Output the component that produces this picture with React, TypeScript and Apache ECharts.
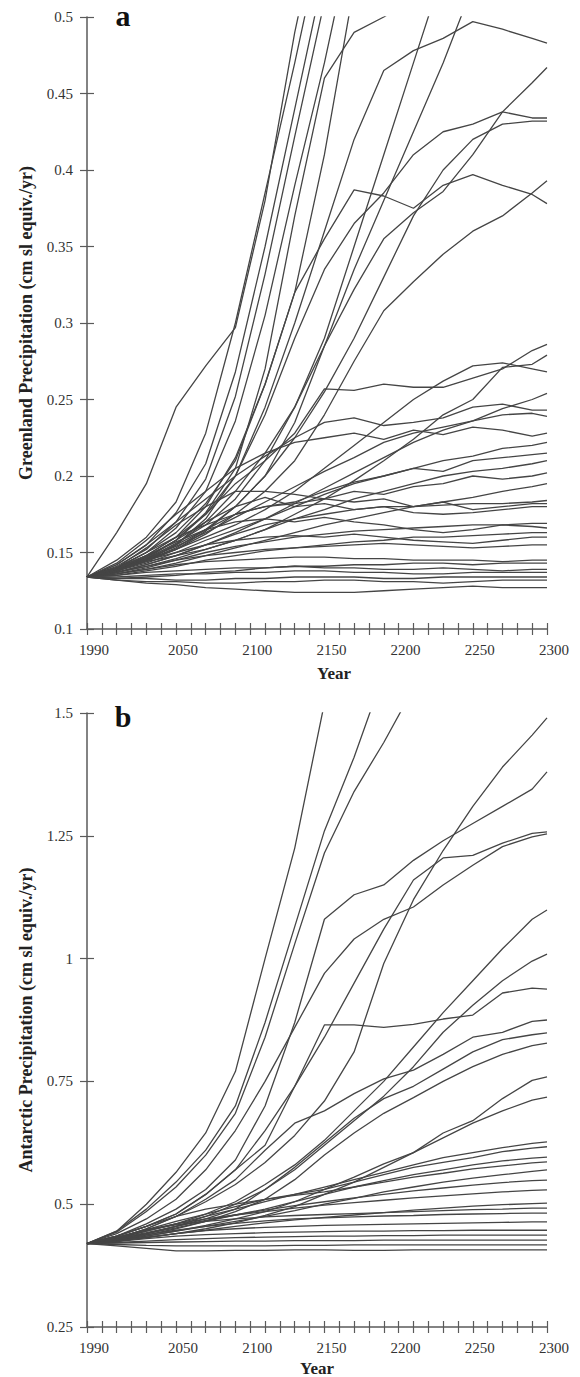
import React, { useEffect, useRef } from 'react';
import * as echarts from 'echarts';

const YEARS = [1990, 2010, 2030, 2050, 2070, 2090, 2110, 2130, 2150, 2170, 2190, 2210, 2230, 2250, 2270, 2290, 2300];
const X_LABEL_YEARS = [1990, 2050, 2100, 2150, 2200, 2250, 2300];

// Greenland precipitation runs (cm sl equiv./yr), sampled at YEARS
const GREENLAND_RUNS: number[][] = [
  [.134, .163, .195, .245, .272, .297, .38, .49, .58],
  [.134, .145, .160, .183, .228, .300, .385, .470, .56],
  [.134, .142, .155, .176, .208, .268, .35, .44, .53],
  [.134, .141, .152, .170, .198, .252, .332, .422, .51],
  [.134, .140, .150, .166, .190, .236, .305, .39, .47, .56],
  [.134, .140, .148, .160, .180, .212, .26, .32, .41, .52],
  [.134, .139, .147, .158, .176, .205, .27, .37, .46, .49, .5, .512],
  [.134, .139, .146, .156, .168, .185, .21, .245, .29, .35, .41, .47, .53],
  [.134, .138, .145, .153, .165, .18, .20, .235, .285, .335, .38, .425, .47, .52],
  [.134, .139, .145, .155, .172, .20, .245, .30, .36, .42, .465, .478, .486, .497, .492, .486, .483],
  [.134, .138, .145, .155, .17, .19, .215, .245, .285, .322, .355, .372, .386, .41, .438, .457, .467],
  [.134, .139, .147, .158, .175, .20, .24, .29, .335, .365, .385, .41, .425, .43, .438, .434, .434],
  [.134, .138, .144, .152, .164, .18, .20, .225, .255, .29, .33, .37, .40, .42, .43, .432, .432],
  [.134, .139, .145, .152, .162, .175, .19, .21, .24, .275, .308, .327, .345, .36, .37, .385, .393],
  [.134, .14, .15, .163, .182, .21, .26, .32, .355, .387, .383, .375, .39, .397, .39, .384, .378],
  [.134, .14, .148, .16, .175, .195, .21, .228, .257, .256, .26, .258, .258, .264, .27, .282, .286],
  [.134, .139, .144, .148, .152, .158, .165, .175, .185, .197, .21, .224, .24, .25, .271, .273, .279],
  [.134, .139, .145, .152, .16, .168, .178, .19, .205, .22, .235, .25, .262, .272, .274, .27, .268],
  [.134, .137, .142, .148, .155, .163, .172, .182, .192, .202, .212, .222, .23, .236, .244, .25, .254],
  [.134, .142, .155, .17, .185, .20, .213, .225, .235, .238, .233, .235, .238, .245, .247, .243, .243],
  [.134, .139, .146, .154, .163, .173, .183, .193, .203, .212, .222, .228, .232, .236, .24, .241, .239],
  [.134, .143, .158, .175, .19, .205, .215, .222, .225, .228, .224, .23, .227, .232, .23, .226, .228],
  [.134, .138, .143, .15, .158, .165, .172, .18, .188, .195, .2, .205, .21, .213, .218, .22, .222],
  [.134, .14, .15, .16, .168, .175, .18, .183, .19, .196, .2, .205, .203, .21, .212, .214, .215],
  [.134, .137, .141, .146, .152, .158, .165, .172, .178, .185, .19, .195, .2, .203, .205, .208, .21],
  [.134, .138, .145, .155, .165, .175, .18, .182, .185, .19, .188, .193, .195, .2, .198, .2, .202],
  [.134, .136, .139, .143, .148, .153, .158, .163, .168, .172, .176, .18, .183, .186, .19, .193, .195],
  [.134, .137, .142, .148, .155, .162, .168, .172, .175, .178, .18, .18, .181, .182, .182, .183, .184],
  [.134, .14, .153, .168, .18, .19, .19, .188, .185, .183, .185, .18, .183, .178, .18, .182, .182],
  [.134, .138, .146, .158, .17, .18, .186, .18, .182, .178, .18, .176, .175, .176, .178, .18, .18],
  [.134, .136, .14, .145, .15, .154, .157, .16, .162, .164, .165, .166, .167, .168, .168, .169, .169],
  [.134, .139, .148, .157, .165, .17, .172, .17, .173, .17, .168, .165, .163, .165, .168, .167, .166],
  [.134, .135, .138, .141, .145, .148, .151, .153, .155, .157, .158, .16, .16, .161, .162, .163, .163],
  [.134, .138, .145, .15, .155, .158, .16, .161, .16, .162, .16, .158, .157, .156, .158, .16, .16],
  [.134, .137, .141, .145, .148, .15, .152, .153, .154, .155, .156, .155, .154, .153, .154, .155, .155],
  [.134, .136, .139, .142, .144, .145, .146, .147, .147, .146, .146, .145, .145, .145, .144, .145, .145],
  [.134, .133, .134, .135, .137, .138, .14, .141, .141, .142, .142, .143, .143, .142, .143, .143, .143],
  [.134, .135, .137, .138, .139, .14, .14, .141, .14, .14, .139, .139, .14, .139, .138, .139, .139],
  [.134, .134, .135, .136, .136, .137, .137, .138, .138, .137, .137, .136, .136, .137, .137, .137, .137],
  [.134, .133, .133, .132, .132, .133, .133, .134, .134, .134, .133, .133, .134, .134, .134, .134, .134],
  [.134, .132, .131, .131, .13, .13, .131, .131, .132, .132, .131, .131, .13, .131, .132, .132, .132],
  [.134, .132, .13, .129, .127, .126, .125, .124, .124, .124, .125, .126, .127, .128, .127, .127, .127],
];

// Antarctic precipitation runs (cm sl equiv./yr), sampled at YEARS
const ANTARCTIC_RUNS: number[][] = [
  [.42, .445, .50, .565, .645, .77, 1.0, 1.225, 1.52],
  [.42, .445, .49, .545, .61, .70, .87, 1.065, 1.26, 1.41, 1.58],
  [.42, .443, .485, .535, .60, .685, .84, 1.03, 1.215, 1.34, 1.44, 1.55],
  [.42, .43, .45, .475, .505, .54, .585, .64, .71, .81, .99, 1.12, 1.22, 1.31, 1.39, 1.455, 1.49],
  [.42, .435, .46, .49, .53, .59, .70, .87, 1.08, 1.13, 1.15, 1.2, 1.24, 1.275, 1.31, 1.345, 1.38],
  [.42, .435, .455, .48, .52, .57, .65, .74, .84, .95, 1.06, 1.16, 1.205, 1.21, 1.235, 1.255, 1.258],
  [.42, .44, .47, .51, .57, .65, .75, .86, .97, 1.04, 1.08, 1.105, 1.15, 1.19, 1.228, 1.248, 1.254],
  [.42, .43, .445, .46, .48, .505, .54, .58, .63, .69, .75, .82, .89, .955, 1.02, 1.08, 1.099],
  [.42, .43, .44, .455, .475, .50, .53, .57, .62, .67, .72, .78, .85, .905, .955, .995, 1.009],
  [.42, .435, .455, .48, .52, .57, .62, .74, .865, .865, .86, .866, .877, .885, .93, .94, .938],
  [.42, .43, .45, .475, .51, .55, .61, .665, .69, .725, .755, .773, .805, .84, .85, .872, .875],
  [.42, .428, .44, .455, .47, .49, .53, .575, .625, .675, .715, .74, .775, .81, .835, .845, .849],
  [.42, .427, .437, .45, .465, .485, .51, .55, .6, .645, .685, .717, .75, .78, .805, .823, .828],
  [.42, .427, .435, .445, .457, .47, .485, .505, .53, .555, .582, .605, .645, .67, .715, .752, .759],
  [.42, .425, .432, .44, .45, .462, .477, .495, .52, .545, .575, .605, .635, .665, .69, .712, .718],
  [.42, .43, .445, .46, .475, .49, .505, .52, .535, .55, .565, .58, .595, .605, .615, .624, .627],
  [.42, .432, .448, .465, .48, .495, .51, .52, .53, .545, .56, .575, .585, .595, .607, .614, .617],
  [.42, .428, .44, .452, .465, .478, .49, .505, .52, .535, .548, .56, .57, .58, .588, .594, .596],
  [.42, .435, .455, .475, .49, .5, .51, .518, .525, .535, .545, .555, .563, .572, .578, .584, .586],
  [.42, .426, .435, .445, .455, .465, .475, .487, .5, .512, .525, .535, .545, .553, .56, .567, .57],
  [.42, .43, .442, .455, .467, .478, .488, .497, .505, .513, .52, .527, .533, .539, .544, .548, .549],
  [.42, .433, .448, .46, .47, .478, .485, .492, .498, .503, .508, .513, .517, .521, .525, .528, .529],
  [.42, .425, .432, .44, .447, .455, .462, .468, .473, .478, .483, .488, .492, .496, .499, .501, .502],
  [.42, .432, .447, .458, .465, .47, .474, .477, .479, .481, .483, .485, .487, .489, .49, .492, .492],
  [.42, .428, .438, .447, .455, .461, .466, .47, .472, .474, .476, .477, .479, .48, .481, .482, .482],
  [.42, .425, .433, .44, .446, .45, .453, .455, .457, .458, .459, .46, .461, .462, .463, .464, .464],
  [.42, .424, .43, .435, .438, .44, .442, .443, .444, .445, .445, .446, .446, .447, .447, .447, .447],
  [.42, .422, .425, .428, .43, .432, .433, .434, .435, .435, .436, .436, .437, .437, .437, .437, .437],
  [.42, .421, .422, .423, .424, .425, .425, .426, .426, .426, .427, .427, .427, .427, .427, .427, .427],
  [.42, .418, .416, .415, .415, .415, .415, .416, .416, .417, .417, .417, .417, .417, .417, .417, .417],
  [.42, .415, .41, .405, .405, .406, .406, .407, .407, .406, .406, .407, .407, .407, .407, .407, .407],
];

const FONT = "'Liberation Serif', 'Times New Roman', serif";
const AXIS_COLOR = '#5a5a5a';
const LINE_COLOR = '#454545';

function makeXAxes(gridIndex: number) {
  const base = {
    gridIndex, type: 'value', min: 1990, max: 2300, interval: 10, position: 'bottom',
    splitLine: { show: false },
  };
  return [
    {
      ...base,
      axisLine: { show: true, onZero: false, lineStyle: { color: AXIS_COLOR, width: 1.5 } },
      axisTick: { show: true, inside: false, length: 6, lineStyle: { color: AXIS_COLOR, width: 1.2 } },
      axisLabel: {
        show: true, margin: 13, fontFamily: FONT, fontSize: 15, color: '#333',
        padding: [0, 0, 0, 14], showMinLabel: true, showMaxLabel: true,
        formatter: (v: number) => (X_LABEL_YEARS.includes(v) ? String(v) : ''),
      },
    },
    {
      ...base,
      axisLine: { show: false, onZero: false },
      axisTick: { show: true, inside: true, length: 6, lineStyle: { color: AXIS_COLOR, width: 1.2 } },
      axisLabel: { show: false },
    },
  ];
}

function makeYAxes(gridIndex: number, min: number, max: number, interval: number, name: string) {
  const base = { gridIndex, type: 'value', min, max, interval, position: 'left', splitLine: { show: false } };
  return [
    {
      ...base,
      name, nameLocation: 'middle', nameGap: 52,
      nameTextStyle: { fontFamily: FONT, fontWeight: 'bold', fontSize: 18, color: '#222' },
      axisLine: { show: true, onZero: false, lineStyle: { color: AXIS_COLOR, width: 1.5 } },
      axisTick: { show: true, inside: false, length: 7, lineStyle: { color: AXIS_COLOR, width: 1.2 } },
      axisLabel: { show: true, margin: 14, fontFamily: FONT, fontSize: 15, color: '#333' },
    },
    {
      ...base,
      axisLine: { show: false, onZero: false },
      axisTick: { show: true, inside: true, length: 7, lineStyle: { color: AXIS_COLOR, width: 1.2 } },
      axisLabel: { show: false },
    },
  ];
}

function makeSeries(runs: number[][], axisIndex: number) {
  return runs.map((run) => ({
    type: 'line',
    xAxisIndex: axisIndex,
    yAxisIndex: axisIndex,
    data: run.map((v, i) => [YEARS[i], v]),
    showSymbol: false,
    symbol: 'none',
    silent: true,
    clip: true,
    lineStyle: { color: LINE_COLOR, width: 1.3 },
  }));
}

export default function App() {
  const ref = useRef<HTMLDivElement>(null);
  useEffect(() => {
    if (!ref.current) return;
    const chart = echarts.init(ref.current, null, { renderer: 'svg' });
    chart.setOption({
      animation: false,
      backgroundColor: '#fff',
      grid: [
        { left: 87, top: 17, width: 460, height: 612 },
        { left: 87, top: 713, width: 460, height: 614 },
      ],
      xAxis: [...makeXAxes(0), ...makeXAxes(1)],
      yAxis: [
        ...makeYAxes(0, 0.1, 0.5, 0.05, 'Greenland Precipitation (cm sl equiv./yr)'),
        ...makeYAxes(1, 0.25, 1.5, 0.25, 'Antarctic Precipitation (cm sl equiv./yr)'),
      ],
      series: [...makeSeries(GREENLAND_RUNS, 0), ...makeSeries(ANTARCTIC_RUNS, 2)],
      graphic: [
        { type: 'text', x: 123, y: 15, style: { text: 'a', font: `bold 30px ${FONT}`, fill: '#111', align: 'center', verticalAlign: 'middle' } },
        { type: 'text', x: 123, y: 716, style: { text: 'b', font: `bold 30px ${FONT}`, fill: '#111', align: 'center', verticalAlign: 'middle' } },
        { type: 'text', x: 334, y: 673, style: { text: 'Year', font: `bold 17px ${FONT}`, fill: '#222', align: 'center', verticalAlign: 'middle' } },
        { type: 'text', x: 317, y: 1368, style: { text: 'Year', font: `bold 17px ${FONT}`, fill: '#222', align: 'center', verticalAlign: 'middle' } },
      ],
    });
    return () => chart.dispose();
  }, []);
  return (
    <div
      ref={ref}
      style={{ position: 'absolute', left: 0, top: 0, width: 580, height: 1377, background: '#fff' }}
    />
  );
}
